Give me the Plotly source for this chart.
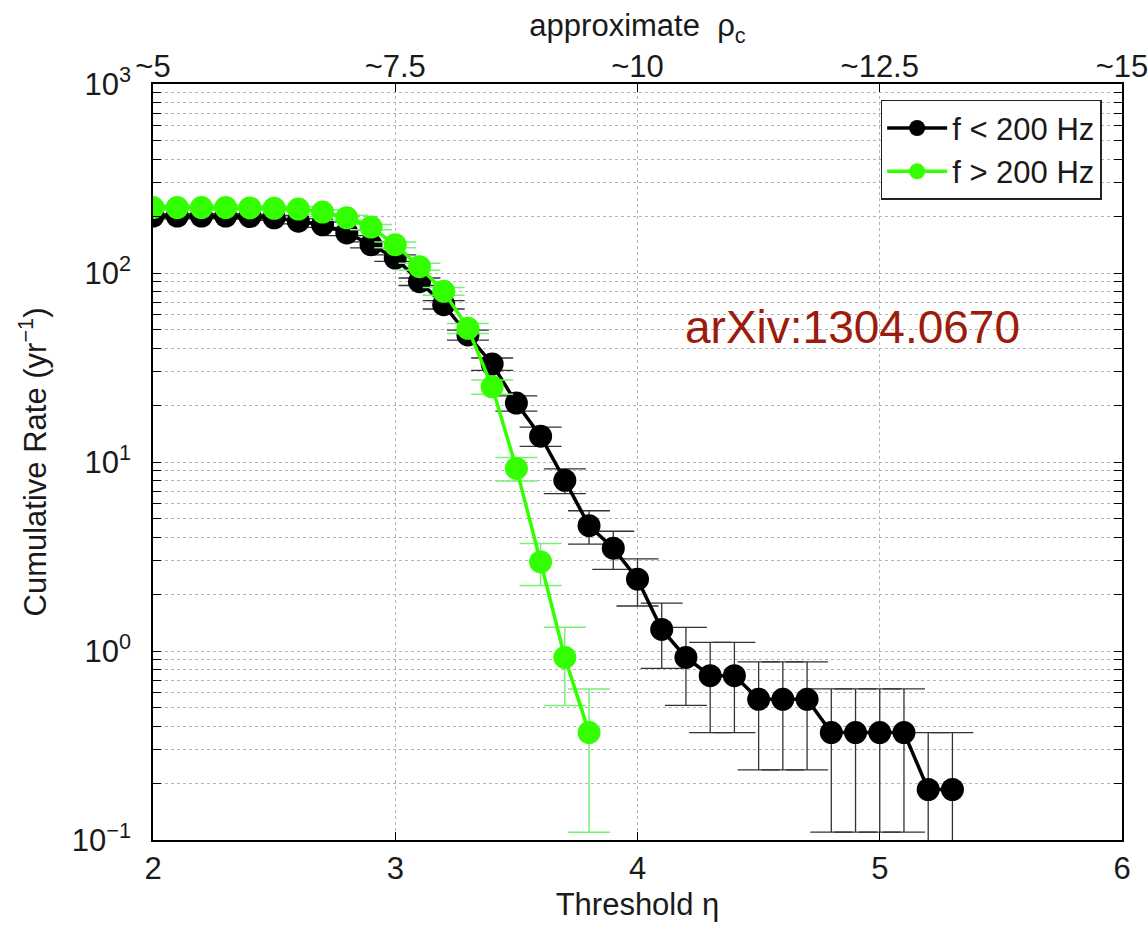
import plotly.graph_objects as go

# ---- data ----
eta_low = [2.0, 2.1, 2.2, 2.3, 2.4, 2.5, 2.6, 2.7, 2.8, 2.9, 3.0, 3.1, 3.2, 3.3, 3.4, 3.5, 3.6,
           3.7, 3.8, 3.9, 4.0, 4.1, 4.2, 4.3, 4.4, 4.5, 4.6, 4.7, 4.8, 4.9, 5.0, 5.1, 5.2, 5.3]
rate_low = [200, 200, 200, 200, 199, 196, 188, 180, 163, 141, 120, 90, 68, 47, 33, 20.5, 13.7,
            8.0, 4.6, 3.5, 2.4, 1.3, 0.925, 0.74, 0.74, 0.555, 0.555, 0.555, 0.37, 0.37, 0.37, 0.37,
            0.185, 0.185]
err_low_up = [6.1, 6.1, 6.1, 6.1, 6.1, 6.0, 5.9, 5.8, 5.5, 5.1, 4.7, 4.1, 3.5, 2.9, 2.5, 1.9, 1.6,
              1.2, 0.92, 0.80, 0.67, 0.49, 0.41, 0.37, 0.37, 0.32, 0.32, 0.32, 0.26, 0.26, 0.26, 0.26,
              0.185, 0.185]
err_low_dn = [6.1, 6.1, 6.1, 6.1, 6.1, 6.0, 5.9, 5.8, 5.5, 5.1, 4.7, 4.1, 3.5, 2.9, 2.5, 1.9, 1.6,
              1.2, 0.92, 0.80, 0.67, 0.49, 0.41, 0.37, 0.37, 0.32, 0.32, 0.32, 0.26, 0.26, 0.26, 0.26,
              0.184, 0.184]

eta_high = [2.0, 2.1, 2.2, 2.3, 2.4, 2.5, 2.6, 2.7, 2.8, 2.9, 3.0, 3.1, 3.2, 3.3, 3.4, 3.5, 3.6,
            3.7, 3.8]
rate_high = [222, 222, 222, 222, 221, 220, 218, 210, 196, 175, 141, 108, 80, 51, 25, 9.25, 2.96,
             0.925, 0.37]
err_high = [6.4, 6.4, 6.4, 6.4, 6.4, 6.4, 6.3, 6.2, 6.0, 5.7, 5.1, 4.5, 3.8, 3.1, 2.15, 1.31, 0.74,
            0.41, 0.26]

x_ticks = [2, 3, 4, 5, 6]
x_tick_labels = ["2", "3", "4", "5", "6"]
top_tick_labels = ["~5", "~7.5", "~10", "~12.5", "~15"]
y_ticks = [0.1, 1, 10, 100, 1000]
y_tick_labels = ["10<sup>−1</sup>", "10<sup>0</sup>", "10<sup>1</sup>", "10<sup>2</sup>", "10<sup>3</sup>"]

FONT = "Liberation Sans, Arial, Helvetica, sans-serif"
GREEN = "#33ff00"

fig = go.Figure()

fig.add_trace(go.Scatter(
    x=eta_low, y=rate_low, mode="lines+markers", name="f < 200 Hz",
    line=dict(color="black", width=3.5),
    marker=dict(color="black", size=23),
    error_y=dict(type="data", symmetric=False, array=err_low_up, arrayminus=err_low_dn,
                 color="#333333", thickness=1.3, width=21),
))
fig.add_trace(go.Scatter(
    x=eta_high, y=rate_high, mode="lines+markers", name="f > 200 Hz",
    line=dict(color=GREEN, width=3.5),
    marker=dict(color=GREEN, size=23),
    error_y=dict(type="data", array=err_high, color="#77f077", thickness=1.5, width=21),
))
# invisible trace to carry the top axis
fig.add_trace(go.Scatter(
    x=eta_low, y=rate_low, xaxis="x2", mode="markers", marker=dict(opacity=0),
    showlegend=False, hoverinfo="skip",
))

axis_font = dict(family=FONT, size=31, color="#1a1a1a")
GRID = "#b4b4b4"

fig.update_layout(
    width=1148, height=935,
    margin=dict(l=153, r=26, t=84, b=95),
    paper_bgcolor="white", plot_bgcolor="white",
    font=axis_font,
    xaxis=dict(
        range=[2, 6], tickvals=x_ticks, ticktext=x_tick_labels,
        ticks="inside", ticklen=8, tickcolor="black",
        showline=True, linecolor="black", linewidth=1.5, mirror=True,
        showgrid=True, gridcolor=GRID, griddash="dot", gridwidth=1,
        zeroline=False, tickfont=axis_font, automargin=False, ticklabeloverflow="allow",
        title=dict(text="Threshold η", font=axis_font, standoff=8),
    ),
    xaxis2=dict(
        range=[2, 6], overlaying="x", side="top", anchor="y",
        tickvals=x_ticks, ticktext=top_tick_labels,
        ticks="inside", ticklen=8, tickcolor="black",
        showgrid=False, zeroline=False, tickfont=axis_font, automargin=False,
        ticklabeloverflow="allow",
        title=dict(text="approximate  ρ<sub>c</sub>", font=axis_font, standoff=2),
    ),
    yaxis=dict(
        type="log", range=[-1, 3], tickvals=y_ticks, ticktext=y_tick_labels,
        ticks="inside", ticklen=8, tickcolor="black",
        showline=True, linecolor="black", linewidth=1.5, mirror="allticks",
        showgrid=True, gridcolor=GRID, griddash="dot", gridwidth=1,
        minor=dict(dtick="D1", ticks="inside", ticklen=4, tickcolor="black",
                   showgrid=True, gridcolor=GRID, griddash="dot", gridwidth=1),
        zeroline=False, tickfont=axis_font, ticklabelstandoff=14, automargin=False,
        ticklabeloverflow="allow",
        title=dict(text="Cumulative Rate (yr<sup>−1</sup>)", font=axis_font, standoff=16),
    ),
    legend=dict(
        x=0.979, y=0.979, xanchor="right", yanchor="top",
        bgcolor="white", bordercolor="#222222", borderwidth=1.5,
        font=dict(family=FONT, size=31, color="#1a1a1a"),
        itemwidth=60, tracegroupgap=6,
    ),
    showlegend=True,
)

fig.add_annotation(
    text="arXiv:1304.0670", xref="paper", yref="paper", x=0.7214, y=0.6786,
    xanchor="center", yanchor="middle", showarrow=False,
    font=dict(family=FONT, size=46, color="#9b1c0c"),
)

fig.write_html("out.html")
